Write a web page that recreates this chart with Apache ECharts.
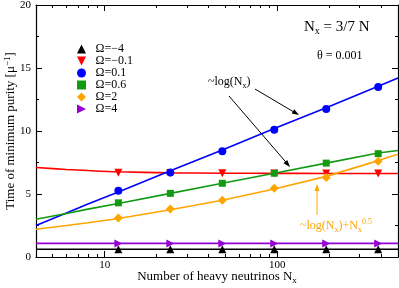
<!DOCTYPE html>
<html>
<head>
<meta charset="utf-8">
<script src="https://cdn.jsdelivr.net/npm/echarts@6/dist/echarts.min.js"></script>
<style>html,body{margin:0;padding:0;background:#fff}#c{width:399px;height:288px}</style>
</head>
<body>
<div id="c"></div>
<script>
// ---- data ----
const nx = [12, 24, 48, 96, 192, 384];
const omegaNames = ['Ω=−4', 'Ω=−0.1', 'Ω=0.1', 'Ω=0.6', 'Ω=2', 'Ω=4'];
const ptsOm4 = [0.62, 0.62, 0.62, 0.62, 0.62, 0.62];
const ptsOmM01 = [6.68, 6.66, 6.65, 6.63, 6.63, 6.62];
const ptsOm01 = [5.25, 6.7, 8.4, 10.1, 11.75, 13.5];
const ptsOm06 = [4.3, 5.05, 5.85, 6.65, 7.45, 8.2];
const ptsOm2 = [3.1, 3.8, 4.5, 5.45, 6.3, 7.6];
const ptsOmP4 = [1.08, 1.08, 1.08, 1.08, 1.08, 1.08];

const fitX = [4, 6, 8, 12, 24, 48, 96, 192, 384, 500];
const fitOm4 = [0.62, 0.62, 0.62, 0.62, 0.62, 0.62, 0.62, 0.62, 0.62, 0.62];
const fitOmM01 = [7.1, 6.95, 6.86, 6.76, 6.68, 6.65, 6.64, 6.63, 6.63, 6.63];
const fitOm01 = [2.5, 3.5, 4.2, 5.15, 6.85, 8.5, 10.2, 11.85, 13.55, 14.2];
const fitOm06 = [3.0, 3.45, 3.8, 4.25, 5.05, 5.85, 6.65, 7.45, 8.25, 8.45];
const fitOm2 = [2.2, 2.5, 2.72, 3.05, 3.75, 4.5, 5.4, 6.4, 7.65, 8.15];
const fitOmP4 = [1.08, 1.08, 1.08, 1.08, 1.08, 1.08, 1.08, 1.08, 1.08, 1.08];

const xMajor = [10, 100];
const xMinor = [4, 5, 6, 7, 8, 9, 20, 30, 40, 50, 60, 70, 80, 90, 200, 300, 400, 500];
const yTicks = ['0', '5', '10', '15', '20'];

// ---- styling ----
const SERIF = '"Liberation Serif", "DejaVu Serif", serif';
const colors = ['#000000', '#ff0000', '#0000ff', '#139a13', '#ffa500', '#9400d3'];
const symbols = ['triangle', 'triangle', 'circle', 'rect', 'diamond', 'triangle'];
const rotations = [0, 180, 0, 0, 0, -90];
const sizes = [8, 8, 8, 7, 9, 8];
const legendIcons = [
  'path://M5,0L10,10L0,10Z',
  'path://M0,0L10,0L5,10Z',
  'path://M0,5A5,5,0,1,1,10,5A5,5,0,1,1,0,5Z',
  'path://M0,0L10,0L10,10L0,10Z',
  'path://M5,0L10,5L5,10L0,5Z',
  'path://M0,0L10,5L0,10Z'
];
const ptsAll = [ptsOm4, ptsOmM01, ptsOm01, ptsOm06, ptsOm2, ptsOmP4];
const fitAll = [fitOm4, fitOmM01, fitOm01, fitOm06, fitOm2, fitOmP4];

const series = [];
fitAll.forEach((f, i) => {
  series.push({
    name: 'fit' + i, type: 'line', xAxisIndex: 0, yAxisIndex: 0,
    data: fitX.map((x, k) => [x, f[k]]),
    showSymbol: false, symbol: 'none', smooth: i === 1 ? 0.3 : false,
    lineStyle: { color: colors[i], width: 1.6 }, z: 3, silent: true
  });
});
ptsAll.forEach((p, i) => {
  series.push({
    name: omegaNames[i], type: 'scatter', xAxisIndex: 0, yAxisIndex: 0,
    data: nx.map((x, k) => [x, p[k]]),
    symbol: symbols[i], symbolRotate: rotations[i], symbolSize: sizes[i],
    itemStyle: { color: colors[i], opacity: 1 }, z: 4 + (i === 2 ? 1 : 0)
  });
});

const axLine = { show: true, lineStyle: { color: '#000', width: 1.2 } };
function xAx(pos, ticks, len, showLine, showLabel) {
  return {
    type: 'log', logBase: 10, min: 4, max: 500, position: pos,
    axisLine: showLine ? axLine : { show: false },
    axisTick: { show: true, inside: true, length: len, customValues: ticks, lineStyle: { color: '#000', width: 1 } },
    axisLabel: showLabel ? { show: true, customValues: xMajor, color: '#000', fontFamily: SERIF, fontSize: 11, margin: 3, formatter: v => String(Math.round(v)) } : { show: false },
    splitLine: { show: false }, minorTick: { show: false }
  };
}
const xAxes = [
  xAx('bottom', xMajor, 6, true, true),
  xAx('bottom', xMinor, 3, false, false),
  xAx('top', xMajor, 6, true, false),
  xAx('top', xMinor, 3, false, false)
];
xAxes[0].name = '{a|Number of heavy neutrinos N}{s|x}';
xAxes[0].nameLocation = 'middle';
xAxes[0].nameGap = 12;
xAxes[0].nameMoveOverlap = false;
xAxes[0].nameTextStyle = {
  color: '#000', fontFamily: SERIF,
  rich: {
    a: { fontFamily: SERIF, fontSize: 13, color: '#000', lineHeight: 16 },
    s: { fontFamily: SERIF, fontSize: 9, color: '#000', verticalAlign: 'bottom', lineHeight: 11, padding: [8, 0, 0, 0] }
  }
};

function yAx(pos, showLabel) {
  return {
    type: 'value', min: 0, max: 20, interval: 5, position: pos,
    axisLine: axLine,
    axisTick: { show: true, inside: true, length: 6, lineStyle: { color: '#000', width: 1 } },
    minorTick: { show: true, splitNumber: 2, length: 3, lineStyle: { color: '#000', width: 1 } },
    axisLabel: showLabel ? { show: true, color: '#000', fontFamily: SERIF, fontSize: 11, margin: 5, formatter: v => yTicks[Math.round(v / 5)] } : { show: false },
    splitLine: { show: false }, minorSplitLine: { show: false }
  };
}
const yAxes = [yAx('left', true), yAx('right', false)];
yAxes[0].name = '{a|Time of minimum purity [μ}{s|−1}{a|]}';
yAxes[0].nameLocation = 'middle';
yAxes[0].nameGap = 17;
yAxes[0].nameMoveOverlap = false;
yAxes[0].nameTextStyle = {
  color: '#000', fontFamily: SERIF,
  rich: {
    a: { fontFamily: SERIF, fontSize: 13, color: '#000', lineHeight: 16 },
    s: { fontFamily: SERIF, fontSize: 9, color: '#000', verticalAlign: 'top', lineHeight: 10 }
  }
};

const txt = (x, y, text, rich, fill, align) => ({
  type: 'text', x: x, y: y, z: 20,
  style: { text: text, fill: fill || '#000', font: '11px ' + SERIF, textAlign: align || 'left', textVerticalAlign: 'middle', rich: rich }
});
const richBase = (size, fill) => ({
  a: { fontFamily: SERIF, fontSize: size, fill: fill, lineHeight: size + 4 },
  s: { fontFamily: SERIF, fontSize: Math.round(size * 0.65), fill: fill, verticalAlign: 'bottom', lineHeight: Math.round(size * 0.65), padding: [Math.round(size * 0.6), 0, 0, 0] },
  u: { fontFamily: SERIF, fontSize: Math.round(size * 0.65), fill: fill, verticalAlign: 'top', lineHeight: Math.round(size * 0.65) }
});
const lineEl = (x1, y1, x2, y2, c) => ({ type: 'line', z: 20, shape: { x1, y1, x2, y2 }, style: { stroke: c, lineWidth: 1 } });
const polyEl = (pts, c) => ({ type: 'polygon', z: 20, shape: { points: pts }, style: { fill: c } });

const graphics = [
  txt(304, 27, '{a|N}{s|x}{a| = 3/7 N}', richBase(15, '#000')),
  txt(317, 56, '{a|θ = 0.001}', richBase(12, '#000')),
  txt(208, 82, '{a|~log(N}{s|x}{a|)}', richBase(12, '#000')),
  txt(300, 226, '{a|~log(N}{s|x}{a|)+N}{s|x}{u|0.5}', richBase(12, '#ffa500')),
  lineEl(255, 89, 295, 112.7, '#000'),
  polyEl([[299, 115], [291.7, 113.6], [294.2, 109.3]], '#000'),
  lineEl(229, 96, 287.5, 164, '#000'),
  polyEl([[290, 167], [283.5, 163.3], [287.3, 160.1]], '#000'),
  lineEl(317, 215, 317, 189, '#ffa500'),
  polyEl([[317, 184], [314.5, 191], [319.5, 191]], '#ffa500')
];

const chart = echarts.init(document.getElementById('c'), null, { renderer: 'canvas' });
chart.setOption({
  animation: false,
  backgroundColor: '#fff',
  grid: { left: 36, right: 1, top: 5, bottom: 31, containLabel: false, outerBoundsMode: 'none' },
  xAxis: xAxes,
  yAxis: yAxes,
  legend: {
    orient: 'vertical', left: 77, top: 43, padding: 0, itemGap: 0,
    itemWidth: 18, itemHeight: 9,
    data: omegaNames.map((n, i) => ({ name: n, icon: legendIcons[i] })),
    textStyle: { fontFamily: SERIF, fontSize: 12, color: '#000', lineHeight: 12 },
    selectedMode: false
  },
  series: series,
  graphic: graphics
});
</script>
</body>
</html>
